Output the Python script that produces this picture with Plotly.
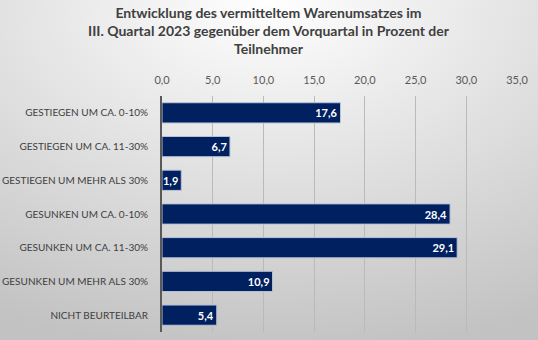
import base64
import plotly.graph_objects as go

categories = [
    "GESTIEGEN UM CA. 0-10%",
    "GESTIEGEN UM CA. 11-30%",
    "GESTIEGEN UM MEHR ALS 30%",
    "GESUNKEN UM CA. 0-10%",
    "GESUNKEN UM CA. 11-30%",
    "GESUNKEN UM MEHR ALS 30%",
    "NICHT BEURTEILBAR",
]
values = [17.6, 6.7, 1.9, 28.4, 29.1, 10.9, 5.4]
tick_values = [0, 5, 10, 15, 20, 25, 30, 35]

W, H = 538, 340
L, R, T, B = 162, 21, 96, 8
FONT = "Lato"

svg = (
    "<svg xmlns='http://www.w3.org/2000/svg' width='538' height='340' preserveAspectRatio='none'>"
    "<defs><radialGradient id='g' cx='0.5' cy='0' r='1.05'>"
    "<stop offset='0' stop-color='#ffffff'/><stop offset='1' stop-color='#c2c2c2'/>"
    "</radialGradient></defs><rect width='538' height='340' fill='url(#g)'/></svg>"
)
src = "data:image/svg+xml;base64," + base64.b64encode(svg.encode()).decode()

pw, ph = W - L - R, H - T - B

fig = go.Figure(
    go.Bar(
        x=values,
        y=categories,
        orientation="h",
        marker=dict(color="#002060", line=dict(color="#b8c4d8", width=1)),
        text=values,
        texttemplate="<b>%{x:.1f}</b>",
        textposition="inside",
        insidetextanchor="end",
        textangle=0,
        constraintext="none",
        textfont=dict(color="white", size=11, family=FONT),
        cliponaxis=False,
    )
)

fig.update_layout(
    width=W,
    height=H,
    margin=dict(l=L, r=R, t=T, b=B, autoexpand=False),
    separators=",.",
    paper_bgcolor="#e6e6e6",
    plot_bgcolor="rgba(0,0,0,0)",
    bargap=0.4,
    showlegend=False,
    font=dict(family=FONT, color="#404040"),
    annotations=[
        dict(
            text="<b>Entwicklung des vermitteltem Warenumsatzes im<br>III. Quartal 2023 gegenüber dem Vorquartal in Prozent der<br>Teilnehmer</b>",
            xref="paper",
            yref="paper",
            x=(W / 2 - L) / pw,
            y=1 + (T - 2) / ph,
            xanchor="center",
            yanchor="top",
            showarrow=False,
            align="center",
            font=dict(size=14, color="#404040", family=FONT),
        )
    ],
    images=[
        dict(
            source=src,
            xref="paper",
            yref="paper",
            x=-L / pw,
            y=1 + T / ph,
            sizex=W / pw,
            sizey=H / ph,
            sizing="stretch",
            xanchor="left",
            yanchor="top",
            layer="below",
        )
    ],
)

fig.update_xaxes(
    range=[0, 35],
    side="top",
    tickvals=tick_values,
    tickformat=".1f",
    showgrid=True,
    gridcolor="#bababa",
    gridwidth=1,
    zeroline=False,
    showline=False,
    ticks="",
    automargin=False,
    ticklabelstandoff=9,
    tickfont=dict(size=11, color="#595959", family=FONT),
    fixedrange=True,
)
fig.update_yaxes(
    categoryorder="array",
    categoryarray=categories,
    autorange="reversed",
    showline=True,
    linecolor="#595959",
    linewidth=2,
    showgrid=False,
    ticks="",
    automargin=False,
    ticklabelstandoff=10,
    tickfont=dict(size=10, color="#404040", family=FONT),
    fixedrange=True,
)

fig.write_html("out.html")
